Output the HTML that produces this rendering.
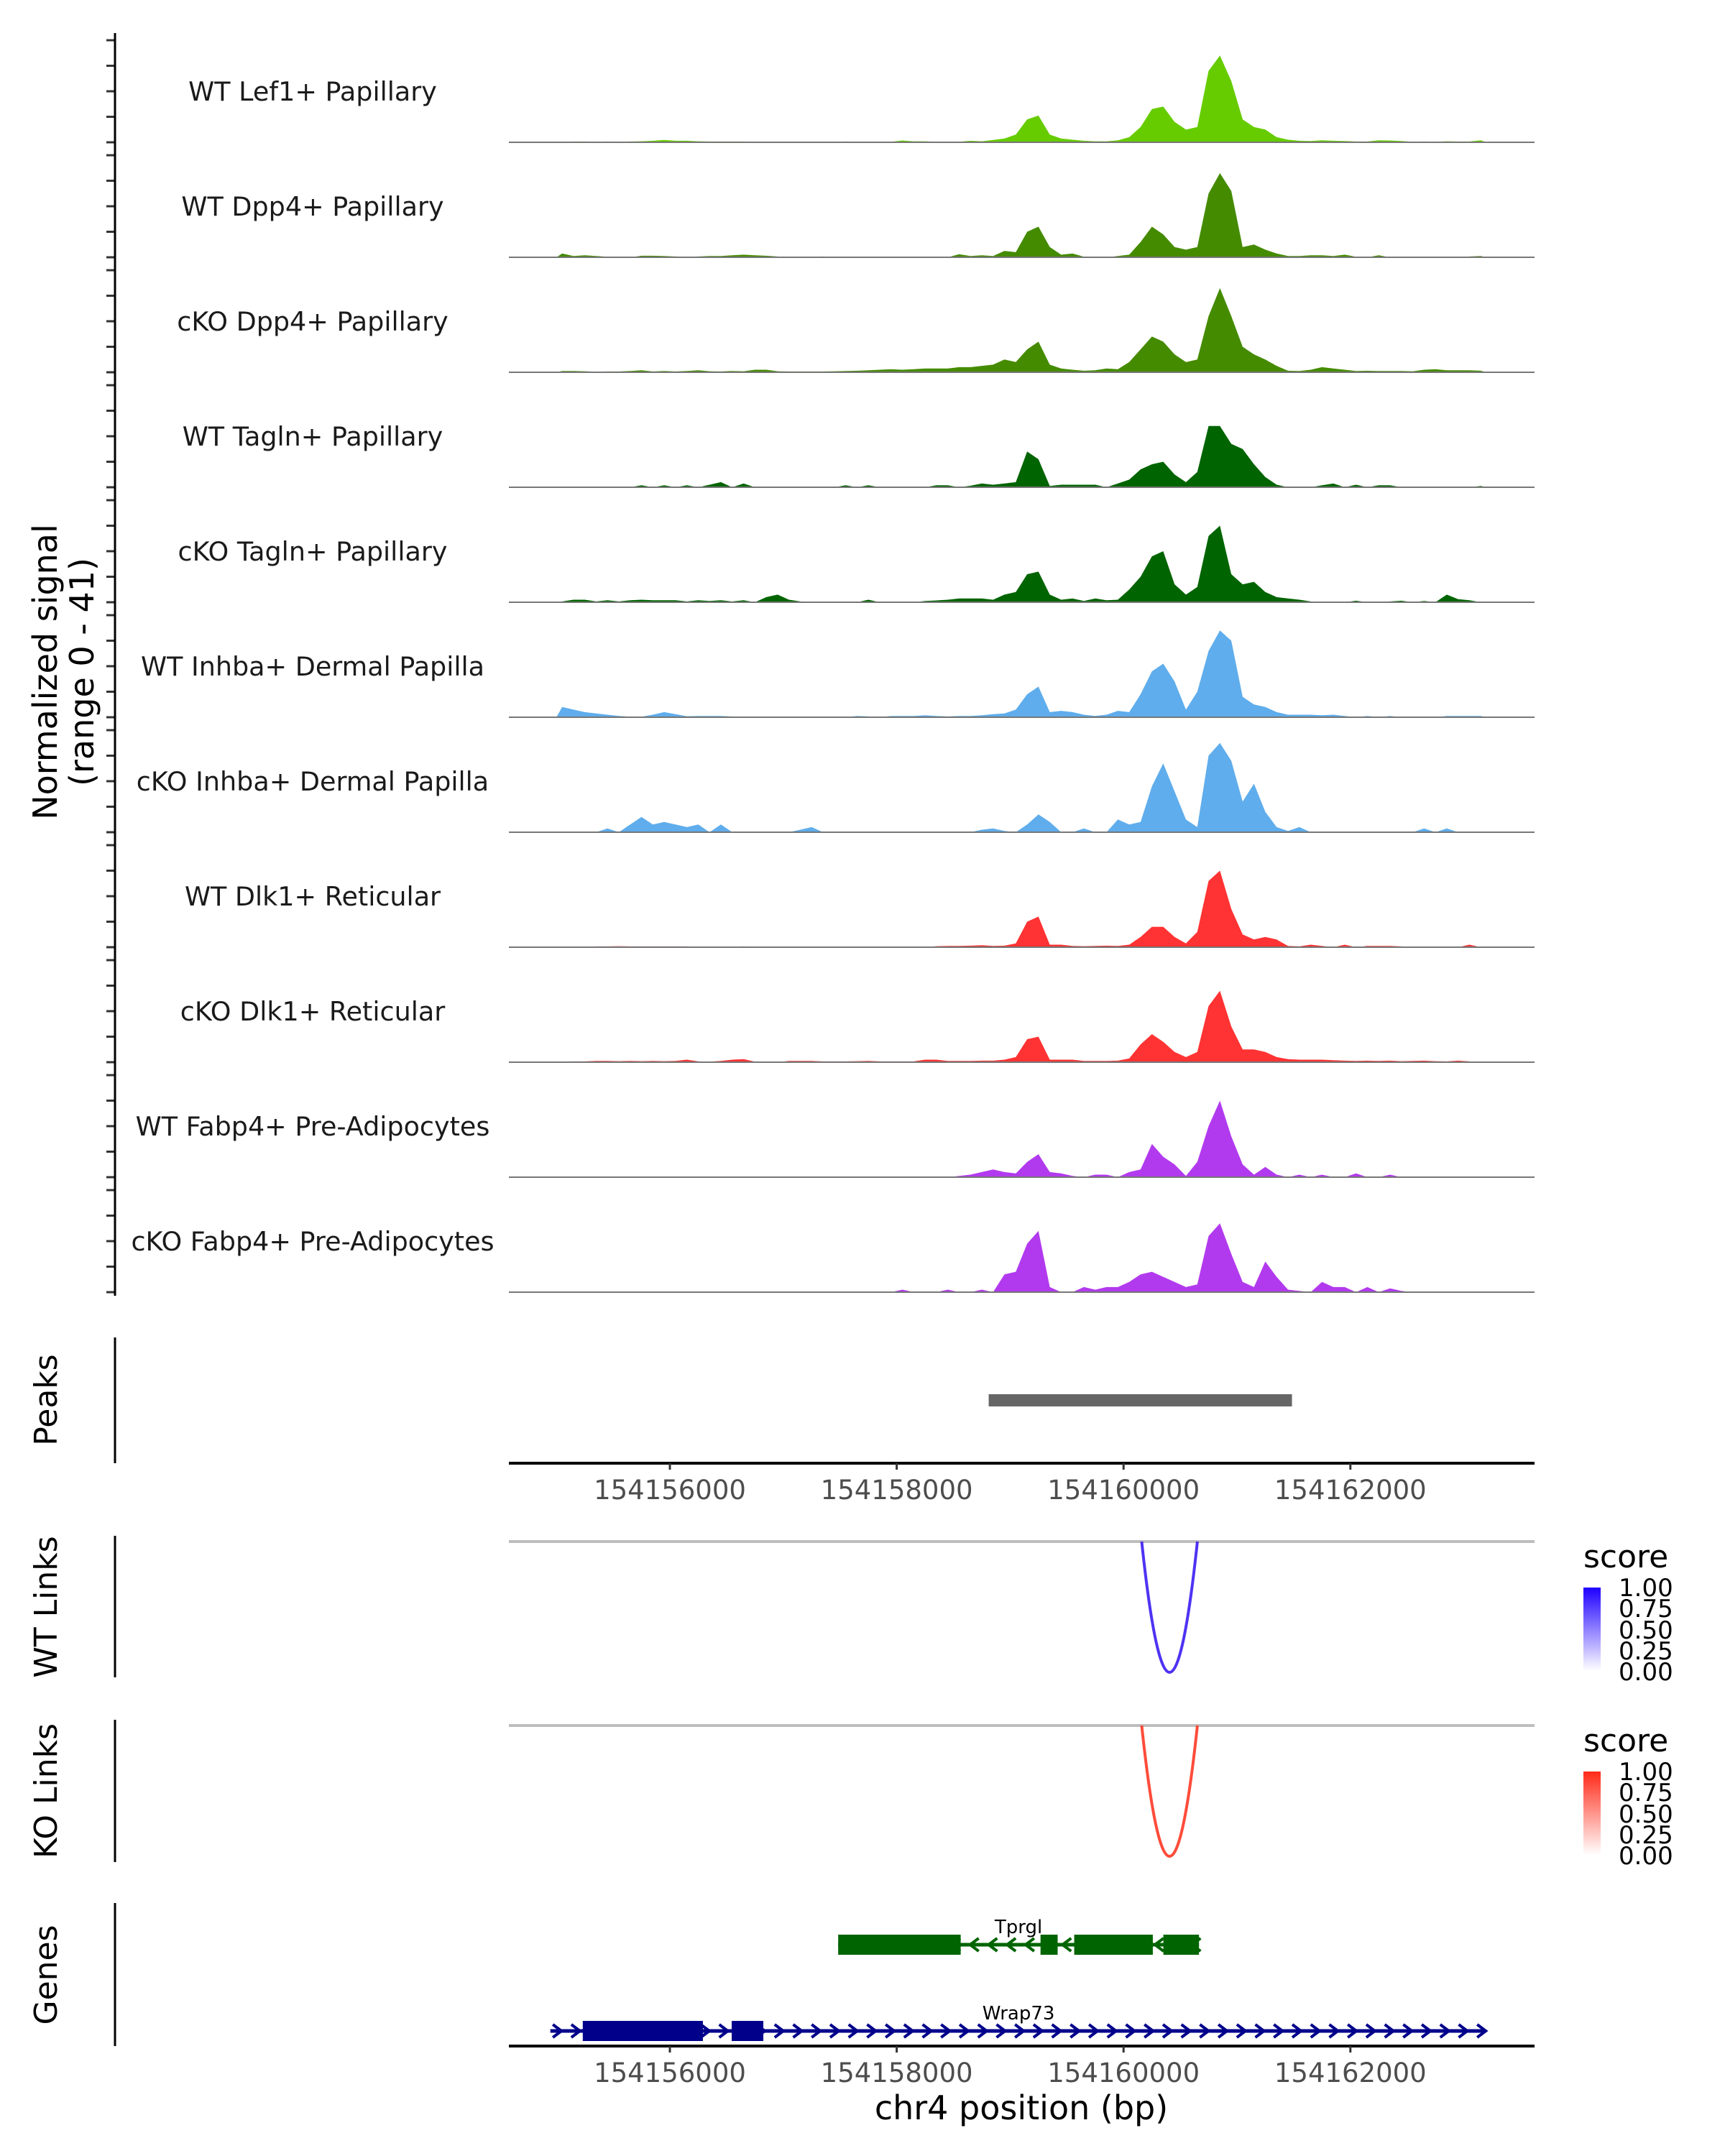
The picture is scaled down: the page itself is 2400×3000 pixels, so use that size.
<!DOCTYPE html>
<html><head><meta charset="utf-8"><style>
html,body{margin:0;padding:0;background:#fff;}
svg{display:block;font-family:"DejaVu Sans","Liberation Sans",sans-serif;}
</style></head><body>
<svg id="chart" xmlns="http://www.w3.org/2000/svg" width="2400" height="3000" viewBox="0 0 2400 3000">
<defs>
<linearGradient id="gBlue" x1="0" y1="1" x2="0" y2="0"><stop offset="0" stop-color="#ffffff"/><stop offset="1" stop-color="#1e00ff"/></linearGradient>
<linearGradient id="gRed" x1="0" y1="1" x2="0" y2="0"><stop offset="0" stop-color="#ffffff"/><stop offset="1" stop-color="#ff2a18"/></linearGradient>
</defs>
<g id="tracks"></g>
<line x1="160" y1="46" x2="160" y2="1803" stroke="#000" stroke-width="3"/>
<text transform="translate(79,935) rotate(-90)" text-anchor="middle" font-size="46" fill="#000">Normalized signal</text>
<text transform="translate(130,935) rotate(-90)" text-anchor="middle" font-size="46" fill="#000">(range 0 - 41)</text>

<line x1="160" y1="1861" x2="160" y2="2036" stroke="#000" stroke-width="3"/>
<text transform="translate(79,1948) rotate(-90)" text-anchor="middle" font-size="44">Peaks</text>
<line x1="160" y1="2137" x2="160" y2="2334" stroke="#000" stroke-width="3"/>
<text transform="translate(79,2236) rotate(-90)" text-anchor="middle" font-size="44">WT Links</text>
<line x1="160" y1="2393" x2="160" y2="2591" stroke="#000" stroke-width="3"/>
<text transform="translate(79,2492) rotate(-90)" text-anchor="middle" font-size="44">KO Links</text>
<line x1="160" y1="2648" x2="160" y2="2847" stroke="#000" stroke-width="3"/>
<text transform="translate(79,2748) rotate(-90)" text-anchor="middle" font-size="44">Genes</text>

<g id="peaks"></g>
<g id="links"></g>
<g id="genes"></g>
<g id="axes"></g>
<text x="1421" y="2949" text-anchor="middle" font-size="46">chr4 position (bp)</text>

<g>
<text x="2203" y="2181" font-size="44">score</text>
<rect x="2203" y="2209" width="24" height="116" fill="url(#gBlue)"/>
<g font-size="34" fill="#000">
<text x="2252" y="2221">1.00</text>
<text x="2252" y="2250">0.75</text>
<text x="2252" y="2280">0.50</text>
<text x="2252" y="2309">0.25</text>
<text x="2252" y="2338">0.00</text>
</g></g>
<g>
<text x="2203" y="2437" font-size="44">score</text>
<rect x="2203" y="2465" width="24" height="116" fill="url(#gRed)"/>
<g font-size="34" fill="#000">
<text x="2252" y="2477">1.00</text>
<text x="2252" y="2506">0.75</text>
<text x="2252" y="2536">0.50</text>
<text x="2252" y="2565">0.25</text>
<text x="2252" y="2594">0.00</text>
</g></g>
</svg>
<script>
const binStart = 154155000;
const binSize = 100;
const trackNames = ["WT Lef1+ Papillary","WT Dpp4+ Papillary","cKO Dpp4+ Papillary","WT Tagln+ Papillary","cKO Tagln+ Papillary","WT Inhba+ Dermal Papilla","cKO Inhba+ Dermal Papilla","WT Dlk1+ Reticular","cKO Dlk1+ Reticular","WT Fabp4+ Pre-Adipocytes","cKO Fabp4+ Pre-Adipocytes"];
const trackColors = ["#66cc00","#458b00","#458b00","#006400","#006400","#5fadec","#5fadec","#ff3333","#ff3333","#b23aee","#b23aee"];
const sigLef1WT = [0,0.3,0.3,0.2,0.3,0.2,0.3,0.4,0.6,0.9, 0.6,0.6,0.4,0.3,0.3,0.3,0.3,0.2,0.2,0.2, 0.2,0.2,0.2,0.2,0.2,0.3,0.2,0.2,0.2,0.2, 0.7,0.4,0.4,0.2,0.2,0.2,0.6,0.4,0.9,1.5, 3,9,10.5,3,1.5,1,0.6,0.4,0.4,0.8, 2,6,13,14,8,5,6,28,34,24, 9,6,5,2,1,0.6,0.5,0.8,0.6,0.5, 0.3,0.3,0.8,0.7,0.5,0.2,0.3,0.2,0.4,0.3, 0.3,0.8];
const sigDpp4WT = [1.5,0.5,0.8,0.5,0.2,0,0,0.6,0.6,0.5, 0.3,0.2,0.3,0.5,0.5,0.8,1,0.8,0.6,0.3, 0,0,0,0.3,0,0,0,0,0,0, 0,0,0,0,0,1.2,0.5,0.8,0.5,2.5, 2,10,12,4,1,1.5,0.2,0,0,0.5, 1,6,12,9,4,3,4,25,33,26, 4,5,3,1.5,0.5,0.5,0.8,0.8,0.5,1, 0.2,0,0.8,0,0,0,0,0,0,0, 0.3,0.5];
const sigDpp4KO = [0.5,0.5,0.4,0.2,0.3,0.3,0.5,0.8,0.3,0.5, 0.3,0.5,0.8,0.4,0.3,0.5,0.4,1,1,0.4, 0.3,0.3,0.3,0.3,0.4,0.5,0.6,0.8,1,1.2, 1,1.2,1.5,1.5,1.5,2,2,2.5,3,5, 4,9,12,3,1.5,1,0.6,0.8,1.5,1.2, 4,9,14,12,7,4,5,22,33,22, 10,7,5,2.5,0.6,0.5,1,2,1.5,1, 0.5,0.6,0.5,0.5,0.5,0.4,1,1.2,0.8,0.8, 0.8,0.6];
const sigTaglnWT = [0,0,0,0,0,0,0,0.8,0,0.8, 0,0.8,0,1,2,0,1.5,0,0,0, 0,0,0,0,0,0.8,0,0.8,0,0, 0,0,0,0.8,0.8,0,0.6,1.5,1,1.5, 2,14,11,0.5,1,1,1,1,0,1.5, 3,7,9,10,5,2,6,24,24,17, 15,9,4,1,0,0,0,0.8,1.5,0, 1,0,0.8,0.8,0,0,0,0,0,0, 0,0.5];
const sigTaglnKO = [0.3,1,1,0.3,0.8,0.3,0.8,1,0.8,0.8, 0.8,0.3,0.8,0.5,0.8,0.3,0.8,0,2,3, 1,0.3,0,0,0,0,0,1,0,0, 0,0,0.5,0.7,1,1.5,1.5,1.5,1,3, 4,11,12,3,1,1.5,0.5,1.5,0.8,1, 5,10,18,20,7,3,6,26,30,11, 7,8,4,2,1.5,1,0.3,0,0,0, 0.6,0,0,0.3,0.6,0,0.5,0,3,1.2, 0.8,0];
const sigInhbaWT = [4,3,2,1.5,1,0.5,0.2,0.2,1,2, 1.2,0.4,0.5,0.5,0.5,0.3,0,0,0,0, 0,0,0,0,0,0,0.5,0.3,0,0.5, 0.5,0.5,0.8,0.5,0.3,0.5,0.5,0.8,1.2,1.5, 3,9,12,2,2.5,2,1,0.5,1,2.5, 2,9,18,21,14,3,10,26,34,30, 8,5,4,2,1,1,1,0.8,1,0.5, 0,0.5,0,0.5,0,0,0,0,0.5,0.5, 0.5,0.5];
const sigInhbaKO = [0,0,0,0,1.5,0,3,6,3,4, 3,2,3,0,3,0,0,0,0,0, 0,1,2,0,0,0,0,0,0,0, 0,0,0,0,0,0,0,1,1.5,0.5, 0,3,7,4,0,0,1.5,0,0,5, 3,4,18,27,16,5,2,30,35,28, 12,19,8,2,0.5,2,0,0,0,0, 0,0,0,0,0,0,1.5,0,1.5,0, 0,0];
const sigDlk1WT = [0,0,0,0.3,0.3,0.4,0.3,0.3,0.3,0.3, 0.3,0.3,0,0,0,0.2,0.3,0.2,0,0, 0,0,0,0,0,0,0,0,0,0, 0,0,0,0.4,0.5,0.5,0.6,0.8,0.5,0.6, 1.5,10,12,1,1,0.5,0.4,0.5,0.6,0.5, 1,4,8,8,4,1.5,6,26,30,15, 5,3,4,3,0.5,0.3,1,0.5,0,1, 0,0.5,0.5,0.5,0.3,0,0,0,0,0, 1,0];
const sigDlk1KO = [0.2,0.3,0.3,0.5,0.5,0.4,0.5,0.4,0.5,0.4, 0.5,1,0.3,0.2,0.5,1,1.2,0.2,0,0, 0.5,0.5,0.5,0.3,0.3,0.3,0.4,0.5,0.3,0.3, 0.3,0.3,1,1,0.5,0.5,0.5,0.6,0.6,1, 2,9,10,1,1,1,0.5,0.5,0.5,0.6, 1.5,7,11,8,4,2,4,22,28,14, 5,5,4,2,1.2,1,1,1,0.8,0.6, 0.5,0.6,0.5,0.6,0.4,0.5,0.6,0.4,0.3,0.6, 0.3,0];
const sigFabp4WT = [0,0,0,0,0,0,0,0,0,0, 0,0,0,0,0,0,0,0,0,0, 0,0,0,0,0,0,0,0,0,0, 0,0,0,0,0,0.5,1,2,3,2, 1.5,6,9,2,1.5,0.5,0,1,1,0, 2,3,13,8,5,0.5,6,20,30,16, 5,1,4,1,0,1,0,1,0,0, 1.5,0,0,1,0,0,0,0,0,0, 0,0];
const sigFabp4KO = [0,0,0,0,0,0,0,0,0,0, 0,0,0,0,0,0,0,0,0,0, 0,0,0,0,0,0,0,0,0,0, 1,0,0,0,1,0,0,1,0,7, 8,19,24,2,0,0,2,1,2,2, 4,7,8,6,4,2,3,22,27,15, 4,2,12,6,1,0.5,0,4,2,2, 0,2,0,1.5,0.5,0,0,0,0,0, 0,0];
const signals = [sigLef1WT,sigDpp4WT,sigDpp4KO,sigTaglnWT,sigTaglnKO,sigInhbaWT,sigInhbaKO,sigDlk1WT,sigDlk1KO,sigFabp4WT,sigFabp4KO];
const signalTicks = [0,10,20,30,40];
const axisTicks = [154156000,154158000,154160000,154162000];
const axisTickLabels = ["154156000","154158000","154160000","154162000"];
const peakStarts = [154158811];
const peakEnds = [154161485];
const wtLinkStart = [154160160]; const wtLinkEnd = [154160651]; const wtLinkScore = [0.85];
const koLinkStart = [154160160]; const koLinkEnd = [154160651]; const koLinkScore = [0.85];
const geneNames = ["Tprgl","Wrap73"];
const geneStrand = [-1, 1];
const geneStart = [154157484, 154154946];
const geneEnd = [154160665, 154163183];
const tprglExonStarts = [154157484,154159268,154159565,154160351];
const tprglExonEnds = [154158564,154159419,154160258,154160665];
const wrap73ExonStarts = [154155232,154156545];
const wrap73ExonEnds = [154156291,154156824];

const NS = "http://www.w3.org/2000/svg";
const X0 = 932, PXBP = 0.1578;
const XL = 708, XR = 2135;
function xScale(bp){ return X0 + (bp - 154156000) * PXBP; }
const trackBase0 = 198, trackStep = 160, PPU = 3.55;
function yScale(k, v){ return trackBase0 + k*trackStep - v*PPU; }
function mk(tag, attrs, parent){ const e=document.createElementNS(NS,tag); for(const k in attrs) e.setAttribute(k,attrs[k]); parent.appendChild(e); return e; }

const tg = document.getElementById('tracks');
signals.forEach((arr,k)=>{
  const base = yScale(k,0);
  let d = "M"+xScale(binStart).toFixed(1)+","+base;
  arr.forEach((v,i)=>{ const cx = xScale(binStart + binSize*i + binSize/2); d += " L"+cx.toFixed(1)+","+yScale(k,v).toFixed(1); });
  d += " L"+xScale(binStart+binSize*arr.length).toFixed(1)+","+base+" Z";
  const p = mk('path',{d:d, fill:trackColors[k]}, tg);
  
  
  const bl = mk('line',{x1:XL,x2:XR,y1:base,y2:base,stroke:'#777','stroke-width':2}, tg);
  
  
  const t = mk('text',{x:435,y:base-58,'text-anchor':'middle','font-size':36.5,fill:'#1a1a1a'}, tg);
  t.textContent = trackNames[k];
  
  
  signalTicks.forEach(v=>{
    const tk = mk('line',{x1:148,x2:160,y1:yScale(k,v),y2:yScale(k,v),stroke:'#333','stroke-width':3}, tg);
    
    
  });
});

const pg = document.getElementById('peaks');
peakStarts.forEach((s,i)=>{
  const r = mk('rect',{x:xScale(s),y:1940,width:xScale(peakEnds[i])-xScale(s),height:17,fill:'#666666'}, pg);
  
  
});

const lg = document.getElementById('links');
function drawLinks(top, bottom, starts, ends, scores, color, label){
  const gl = mk('line',{x1:XL,x2:XR,y1:top,y2:top,stroke:'#bebebe','stroke-width':4}, lg);
  
  
  starts.forEach((s,i)=>{
    const a = xScale(s), b = xScale(ends[i]), m=(a+b)/2;
    const depth = (bottom-top)*2;
    const p = mk('path',{d:`M${a},${top} Q${m},${top+depth} ${b},${top}`,fill:'none',stroke:color,'stroke-width':4,'stroke-opacity':0.4+0.6*scores[i]}, lg);
    
    
  });
}
drawLinks(2145, 2327, wtLinkStart, wtLinkEnd, wtLinkScore, '#3d1ff2', 'wt-link');
drawLinks(2401, 2583, koLinkStart, koLinkEnd, koLinkScore, '#ff3a26', 'ko-link');

const gg = document.getElementById('genes');
function drawGene(gi, yc, exS, exE, color){
  const a = xScale(geneStart[gi]), b = xScale(geneEnd[gi]);
  const ln = mk('line',{x1:a,x2:b,y1:yc,y2:yc,stroke:color,'stroke-width':5}, gg);
  
  
  for(let bp = geneStart[gi]+60; bp < geneEnd[gi]; bp += 163){
    const x = xScale(bp), dx = 6*geneStrand[gi];
    const c = mk('path',{d:`M${x-dx},${yc-9} L${x+dx},${yc} L${x-dx},${yc+9}`,fill:'none',stroke:color,'stroke-width':4}, gg);
    
    
  }
  exS.forEach((s,i)=>{
    const r = mk('rect',{x:xScale(s),y:yc-14,width:xScale(exE[i])-xScale(s),height:28,fill:color}, gg);
    
    
  });
  const t = mk('text',{x:xScale(154159074),y:yc-16,'text-anchor':'middle','font-size':26,fill:'#000'}, gg);
  t.textContent = geneNames[gi];
  
  
}
drawGene(0, 2706, tprglExonStarts, tprglExonEnds, '#006400');
drawGene(1, 2826, wrap73ExonStarts, wrap73ExonEnds, '#00008b');

const ag = document.getElementById('axes');
[[2036,2086],[2847,2897]].forEach(([y,ly])=>{
  const l = mk('line',{x1:XL,x2:XR,y1:y,y2:y,stroke:'#000','stroke-width':4}, ag);
  
  
  axisTicks.forEach((bp,i)=>{
    const x = xScale(bp);
    const tk = mk('line',{x1:x,x2:x,y1:y,y2:y+9,stroke:'#333','stroke-width':3}, ag);
    
    
    const t = mk('text',{x:x,y:ly,'text-anchor':'middle','font-size':37,fill:'#4d4d4d'}, ag);
    t.textContent = axisTickLabels[i];
    
    
  });
});
</script>
</body></html>
